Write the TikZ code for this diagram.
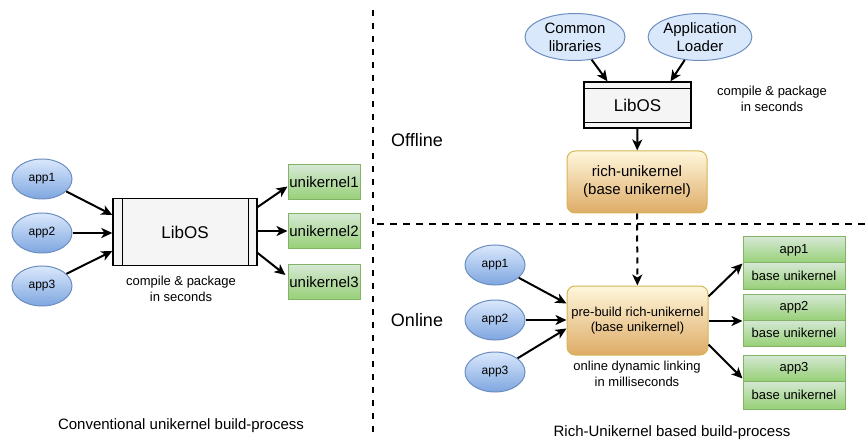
\documentclass[tikz,border=0pt]{standalone}
\usepackage{fontspec}
\setmainfont{Liberation Sans}
\usetikzlibrary{arrows.meta,shapes.geometric}
\definecolor{bluefill}{HTML}{DAE8FC}
\definecolor{bluegrad}{HTML}{7EA6E0}
\definecolor{blueline}{HTML}{6C8EBF}
\definecolor{greenfill}{HTML}{D5E8D4}
\definecolor{greengrad}{HTML}{97D077}
\definecolor{greenline}{HTML}{82B366}
\definecolor{orgtop}{HTML}{FFF7DC}
\definecolor{orgbot}{HTML}{DEAB66}
\definecolor{orgline}{HTML}{D6B656}
\definecolor{libfill}{HTML}{F5F5F5}
\tikzset{
  fa/.style={font=\fontsize{12}{14}\selectfont},
  fb/.style={font=\fontsize{13}{15.5}\selectfont},
  fc/.style={font=\fontsize{15}{18}\selectfont},
  fd/.style={font=\fontsize{17}{20}\selectfont},
  fe/.style={font=\fontsize{18}{21}\selectfont},
  appell/.style={ellipse,draw=blueline,line width=1pt,top color=bluefill,bottom color=bluegrad,
     minimum width=60pt,minimum height=40pt,inner sep=0pt,fa},
  topell/.style={ellipse,draw=blueline,line width=1pt,fill=bluefill,
     minimum width=100pt,minimum height=47pt,inner sep=0pt,align=center,fc},
  libbox/.style={rectangle,draw=black,line width=1.3pt,fill=libfill,inner sep=0pt,fd},
  ukbox/.style={rectangle,draw=greenline,line width=1pt,top color=greenfill,bottom color=greengrad,
     minimum width=72pt,minimum height=35pt,inner sep=0pt,fc},
  gbox/.style={rectangle,draw=greenline,line width=1pt,top color=greenfill,bottom color=greengrad,
     minimum width=102pt,minimum height=26pt,inner sep=0pt,fb},
  orgbox/.style={rectangle,rounded corners=8pt,draw=orgline,line width=1pt,top color=orgtop,bottom color=orgbot,
     inner sep=0pt,align=center},
  arr/.style={line width=2pt,-{Stealth[length=11pt,width=10pt,inset=3pt]}},
  lbl/.style={align=center,fb,inner sep=0pt},
}
\begin{document}
\begin{tikzpicture}[x=1pt,y=-1pt]
\useasboundingbox (0,0) rectangle (866,443);
% ---------- left part ----------
\node[appell] (la1) at (42,179) {app1};
\node[appell] (la2) at (42,233) {app2};
\node[appell] (la3) at (42,286) {app3};
\node[libbox,minimum width=144pt,minimum height=67pt] (llib) at (185,232) {LibOS};
\draw[line width=1.3pt] ([xshift=10pt]llib.north west) -- ([xshift=10pt]llib.south west);
\draw[line width=1.3pt] ([xshift=-9pt]llib.north east) -- ([xshift=-9pt]llib.south east);
\node[lbl] (lcomp) at (181,289) {compile \& package\\in seconds};
\node[ukbox] (lu1) at (324,182.5) {unikernel1};
\node[ukbox] (lu2) at (324,231) {unikernel2};
\node[ukbox] (lu3) at (324,282) {unikernel3};
\draw[arr] (la1) -- ([yshift=17pt]llib.west);
\draw[arr] (la2) -- (llib.west |- la2);
\draw[arr] (la3) -- ([yshift=-19pt]llib.west);
\draw[arr] ([yshift=25pt]llib.east) -- ([yshift=-4pt]lu1.west);
\draw[arr] (llib.east |- lu2) -- (lu2.west);
\draw[arr] ([yshift=-21pt]llib.east) -- ([yshift=7pt,xshift=-2pt]lu3.west);
\node[fc,inner sep=0pt] (lcap) at (181,426) {Conventional unikernel build-process};
% ---------- separators ----------
\coordinate (vs) at (373,10);
\coordinate (ve) at (373,434);
\coordinate (hs) at (377,224);
\coordinate (he) at (866,224);
\draw[line width=2pt,dash pattern=on 6pt off 7pt] (vs) -- (ve);
\draw[line width=2pt,dash pattern=on 7pt off 6pt] (hs) -- (he);
\node[fe,inner sep=0pt] (off) at (417,140) {Offline};
\node[fe,inner sep=0pt] (onl) at (417,320) {Online};
% ---------- right, offline ----------
\node[topell] (ecl) at (575,37) {Common\\libraries};
\node[topell] (eal) at (700,37) {Application\\Loader};
\node[libbox,minimum width=107pt,minimum height=46pt] (tlib) at (637.5,105) {LibOS};
\draw[line width=1.3pt] ([yshift=-7pt]tlib.north west) -- ([yshift=-7pt]tlib.north east);
\draw[line width=1.3pt] ([yshift=6pt]tlib.south west) -- ([yshift=6pt]tlib.south east);
\node[lbl] (tcomp) at (772,99) {compile \& package\\in seconds};
\node[orgbox,minimum width=140pt,minimum height=62pt,fc] (rich) at (637,182) {rich-unikernel\\(base unikernel)};
\draw[arr] (ecl) -- ([xshift=-30pt]tlib.north);
\draw[arr] (eal) -- ([xshift=33pt]tlib.north);
\draw[arr] (tlib) -- (rich);
% ---------- right, online ----------
\node[orgbox,minimum width=141pt,minimum height=69pt,fb] (pre) at (637.5,320.5) {pre-build rich-unikernel\\(base unikernel)};
\draw[arr,dash pattern=on 6pt off 5pt] (rich) -- (pre);
\node[lbl] (ocomp) at (637,374) {online dynamic linking\\in milliseconds};
\node[appell] (ra1) at (495,265) {app1};
\node[appell] (ra2) at (495,320) {app2};
\node[appell] (ra3) at (495,372) {app3};
\draw[arr] (ra1) -- ([yshift=17pt]pre.west);
\draw[arr] (ra2) -- (pre.west |- ra2);
\draw[arr] (ra3) -- ([yshift=-8pt]pre.west);
\node[gbox] (g1t) at (794,250) {app1};
\node[gbox] (g1b) at (794,276) {base unikernel};
\node[gbox] (g2t) at (794,307.5) {app2};
\node[gbox] (g2b) at (794,333) {base unikernel};
\node[gbox] (g3t) at (794,368) {app3};
\node[gbox,minimum height=28pt] (g3b) at (794,395) {base unikernel};
\draw[arr] ([yshift=24pt]pre.east) -- (g1t.south west);
\draw[arr] (pre.east |- g2t.south west) -- (g2t.south west);
\draw[arr] ([yshift=-24pt]pre.east) -- ([yshift=3pt]g3t.south west);
\node[fc,inner sep=0pt] (rcap) at (672,433) {Rich-Unikernel based build-process};
\end{tikzpicture}
\end{document}
